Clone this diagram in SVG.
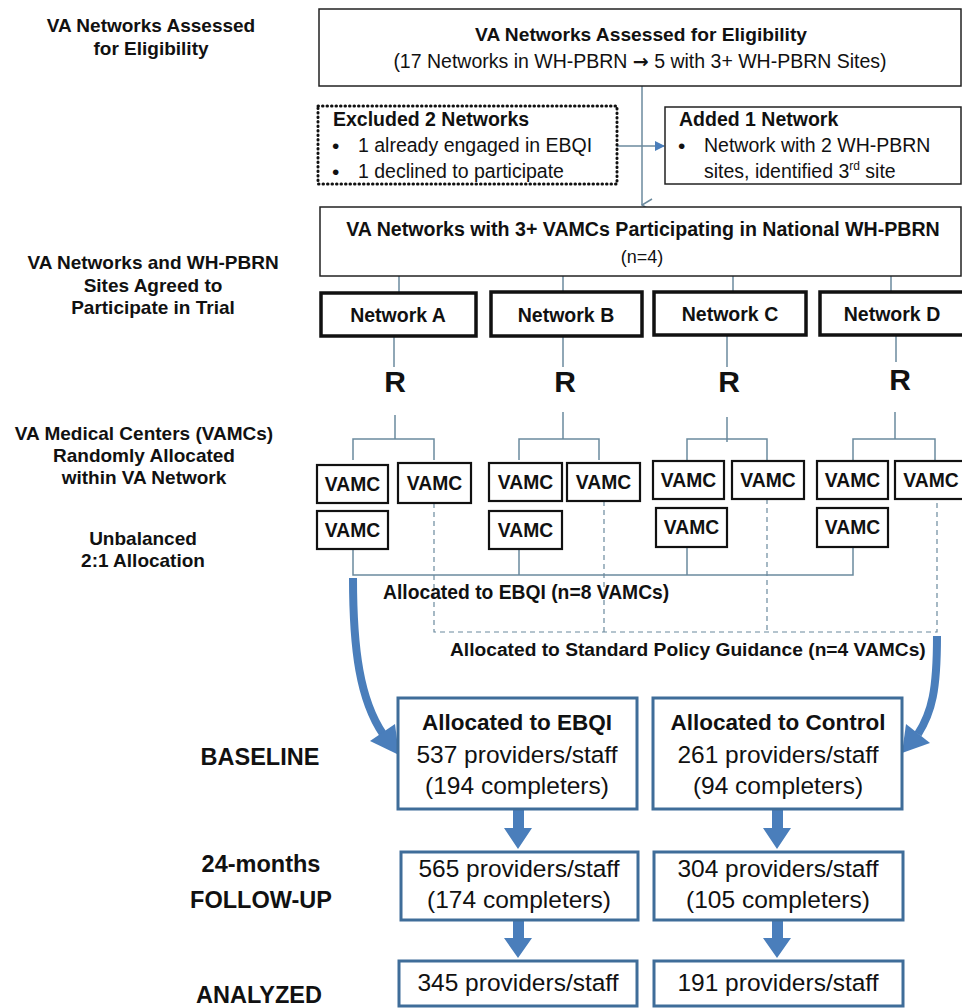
<svg xmlns="http://www.w3.org/2000/svg" width="962" height="1008" viewBox="0 0 962 1008">
<style>
text{font-family:"Liberation Sans",Arial,sans-serif;fill:#111}
.b{font-weight:bold}
.lab{font-weight:bold;font-size:19px;text-anchor:middle}
.big{font-weight:bold;font-size:23.5px;text-anchor:middle}
.c{text-anchor:middle}
.box{fill:#fff;stroke:#222;stroke-width:1.5}
.net{fill:#fff;stroke:#111;stroke-width:3.5}
.vamc{fill:#fff;stroke:#111;stroke-width:2.2}
.res{fill:#fff;stroke:#3f6d99;stroke-width:3}
.ln{fill:none;stroke:#6b8a9e;stroke-width:1.5}
.dl{fill:none;stroke:#6b8a9e;stroke-width:1.2;stroke-dasharray:5,4}
.ba{fill:none;stroke:#4a7ebb;stroke-width:8}
.bh{fill:#4a7ebb}
.vt{font-weight:bold;font-size:19.3px;text-anchor:middle}
.nt{font-weight:bold;font-size:19.5px;text-anchor:middle}
.rt{font-size:24.5px;text-anchor:middle}
.st{font-size:19.5px}
.bu{font-size:21px}
</style>
<defs>
<marker id="open" markerWidth="14" markerHeight="12" refX="7" refY="11" orient="auto" markerUnits="userSpaceOnUse" viewBox="0 0 14 12">
<path d="M1,1 L7,11 L13,1" fill="none" stroke="#6b8a9e" stroke-width="1.5"/>
</marker>
<marker id="fill" markerWidth="10" markerHeight="10" refX="9" refY="5" orient="auto" markerUnits="userSpaceOnUse" viewBox="0 0 10 10">
<path d="M0,0 L10,5 L0,10 Z" fill="#4a7ebb"/>
</marker>
</defs>

<g id="left-labels">
<text class="lab" x="151" y="32">VA Networks Assessed</text>
<text class="lab" x="151" y="55">for Eligibility</text>
<text class="lab" x="153" y="269">VA Networks and WH-PBRN</text>
<text class="lab" x="153" y="292">Sites Agreed to</text>
<text class="lab" x="153" y="314">Participate in Trial</text>
<text class="lab" x="144" y="440">VA Medical Centers (VAMCs)</text>
<text class="lab" x="144" y="462">Randomly Allocated</text>
<text class="lab" x="144" y="484">within VA Network</text>
<text class="lab" x="143" y="545">Unbalanced</text>
<text class="lab" x="143" y="567">2:1 Allocation</text>
<text class="big" x="260" y="765">BASELINE</text>
<text class="big" x="261" y="872">24-months</text>
<text class="big" x="261" y="908">FOLLOW-UP</text>
<text class="big" x="259" y="1003">ANALYZED</text>
</g>

<g id="connectors">
<line class="ln" x1="642" y1="86" x2="642" y2="205" marker-end="url(#open)"/>
<line class="ln" x1="617" y1="146" x2="664" y2="146" marker-end="url(#fill)"/>
<line class="ln" x1="399" y1="276" x2="399" y2="293"/>
<line class="ln" x1="563" y1="276" x2="563" y2="292"/>
<line class="ln" x1="733" y1="276" x2="733" y2="292"/>
<line class="ln" x1="891" y1="276" x2="891" y2="292"/>
<line class="ln" x1="394" y1="336" x2="394" y2="367"/>
<line class="ln" x1="563" y1="336" x2="563" y2="367"/>
<line class="ln" x1="727" y1="335" x2="727" y2="367"/>
<line class="ln" x1="896" y1="335" x2="896" y2="362"/>
<path class="ln" d="M395,415 V439 M353,460 V439 H434 V460"/>
<path class="ln" d="M563,412 V439 M519,460 V439 H599 V460"/>
<path class="ln" d="M727,417 V442 M687,460 V439 H767 V460"/>
<path class="ln" d="M895,412 V439 M853,460 V439 H935 V460"/>
<path class="ln" d="M353,549 V575 H853 V547 M519,549 V575 M687,547 V575"/>
<path class="dl" d="M434,503 V632 H937 V499 M604,501 V632 M767,499 V632"/>
<path class="ba" d="M353,578 C353,650 360,700 383,734"/>
<polygon class="bh" points="399,755 370,741 395,724"/>
<path class="ba" d="M937,636 C937,690 932,712 918,734"/>
<polygon class="bh" points="902,753 906,724 930,743"/>
<path class="bh" d="M513,809 H524 V828 H532 L518,849 L504,828 H513 Z"/>
<path class="bh" d="M513,920 H524 V938 H532 L518,958 L504,938 H513 Z"/>
<path class="bh" d="M772,809 H783 V828 H791 L777,849 L763,828 H772 Z"/>
<path class="bh" d="M772,920 H783 V938 H791 L777,958 L763,938 H772 Z"/>
</g>

<g id="n-assessed">
<rect class="box" x="319" y="9" width="642" height="77"/>
<text class="b c" x="641" y="41" font-size="19.2">VA Networks Assessed for Eligibility</text>
<text class="c" x="640" y="68" font-size="19.5">(17 Networks in WH-PBRN <tspan font-family="DejaVu Sans" font-weight="bold" font-size="19">→</tspan> 5 with 3+ WH-PBRN Sites)</text>
</g>

<g id="n-excluded">
<rect x="318" y="106" width="299" height="78" fill="#fff" stroke="#111" stroke-width="3" stroke-dasharray="0.5,4" stroke-linecap="round"/>
<text class="b" x="333" y="126" font-size="19.5">Excluded 2 Networks</text>
<text class="bu" x="332" y="153">•</text>
<text class="st" x="358" y="152">1 already engaged in EBQI</text>
<text class="bu" x="332" y="179">•</text>
<text class="st" x="358" y="178">1 declined to participate</text>
</g>

<g id="n-added">
<rect class="box" x="665" y="107" width="296" height="77"/>
<text class="b" x="679" y="126" font-size="19.5">Added 1 Network</text>
<text class="bu" x="678" y="153">•</text>
<text class="st" x="704" y="152">Network with 2 WH-PBRN</text>
<text class="st" x="704" y="178">sites, identified 3<tspan font-size="12" dy="-8">rd</tspan><tspan dy="8"> site</tspan></text>
</g>

<g id="n-participating">
<rect class="box" x="320" y="207" width="641" height="69"/>
<text class="b c" x="643" y="236" font-size="19.6">VA Networks with 3+ VAMCs Participating in National WH-PBRN</text>
<text class="c" x="642" y="263" font-size="18">(n=4)</text>
</g>

<g id="net-a"><rect class="net" x="321" y="293" width="155" height="43"/><text class="nt" x="398" y="322">Network A</text></g>
<g id="net-b"><rect class="net" x="491" y="292" width="151" height="44"/><text class="nt" x="566" y="322">Network B</text></g>
<g id="net-c"><rect class="net" x="654" y="292" width="152" height="43"/><text class="nt" x="730" y="321">Network C</text></g>
<g id="net-d"><rect class="net" x="820" y="292" width="145" height="43"/><text class="nt" x="892" y="321">Network D</text></g>

<g id="r-a"><text class="b c" x="395" y="392" font-size="30">R</text></g>
<g id="r-b"><text class="b c" x="565" y="392" font-size="30">R</text></g>
<g id="r-c"><text class="b c" x="729" y="392" font-size="30">R</text></g>
<g id="r-d"><text class="b c" x="900" y="390" font-size="30">R</text></g>

<g id="vamc-a1"><rect class="vamc" x="317" y="465" width="71" height="38"/><text class="vt" x="352.5" y="491">VAMC</text></g>
<g id="vamc-a2"><rect class="vamc" x="398" y="463" width="73" height="40"/><text class="vt" x="434.5" y="490">VAMC</text></g>
<g id="vamc-a3"><rect class="vamc" x="317" y="511" width="71" height="38"/><text class="vt" x="352.5" y="537">VAMC</text></g>
<g id="vamc-b1"><rect class="vamc" x="489" y="463" width="73" height="38"/><text class="vt" x="525.5" y="489">VAMC</text></g>
<g id="vamc-b2"><rect class="vamc" x="567" y="463" width="73" height="38"/><text class="vt" x="603.5" y="489">VAMC</text></g>
<g id="vamc-b3"><rect class="vamc" x="489" y="511" width="73" height="38"/><text class="vt" x="525.5" y="537">VAMC</text></g>
<g id="vamc-c1"><rect class="vamc" x="653" y="461" width="71" height="38"/><text class="vt" x="688.5" y="487">VAMC</text></g>
<g id="vamc-c2"><rect class="vamc" x="732" y="461" width="72" height="38"/><text class="vt" x="768" y="487">VAMC</text></g>
<g id="vamc-c3"><rect class="vamc" x="656" y="508" width="71" height="39"/><text class="vt" x="691.5" y="534">VAMC</text></g>
<g id="vamc-d1"><rect class="vamc" x="817" y="461" width="71" height="38"/><text class="vt" x="852.5" y="487">VAMC</text></g>
<g id="vamc-d2"><rect class="vamc" x="895" y="461" width="72" height="38"/><text class="vt" x="931" y="487">VAMC</text></g>
<g id="vamc-d3"><rect class="vamc" x="817" y="508" width="71" height="39"/><text class="vt" x="852.5" y="534">VAMC</text></g>

<g id="alloc-labels">
<text class="b" x="383" y="599" font-size="19.3">Allocated to EBQI (n=8 VAMCs)</text>
<text class="b" x="450" y="656" font-size="19.2">Allocated to Standard Policy Guidance (n=4 VAMCs)</text>
</g>

<g id="ebqi-baseline">
<rect class="res" x="398" y="698" width="239" height="111"/>
<text class="b c" x="517" y="730" font-size="22.5">Allocated to EBQI</text>
<text class="rt" x="517" y="763">537 providers/staff</text>
<text class="rt" x="517" y="794">(194 completers)</text>
</g>
<g id="ctrl-baseline">
<rect class="res" x="653" y="698" width="249" height="111"/>
<text class="b c" x="778" y="730" font-size="22.5">Allocated to Control</text>
<text class="rt" x="778" y="763">261 providers/staff</text>
<text class="rt" x="778" y="794">(94 completers)</text>
</g>
<g id="ebqi-followup">
<rect class="res" x="401" y="852" width="237" height="68"/>
<text class="rt" x="519" y="877">565 providers/staff</text>
<text class="rt" x="519" y="908">(174 completers)</text>
</g>
<g id="ctrl-followup">
<rect class="res" x="654" y="852" width="249" height="68"/>
<text class="rt" x="778" y="877">304 providers/staff</text>
<text class="rt" x="778" y="908">(105 completers)</text>
</g>
<g id="ebqi-analyzed">
<rect class="res" x="399" y="961" width="238" height="45"/>
<text class="rt" x="518" y="991">345 providers/staff</text>
</g>
<g id="ctrl-analyzed">
<rect class="res" x="654" y="961" width="249" height="45"/>
<text class="rt" x="778" y="991">191 providers/staff</text>
</g>
</svg>
